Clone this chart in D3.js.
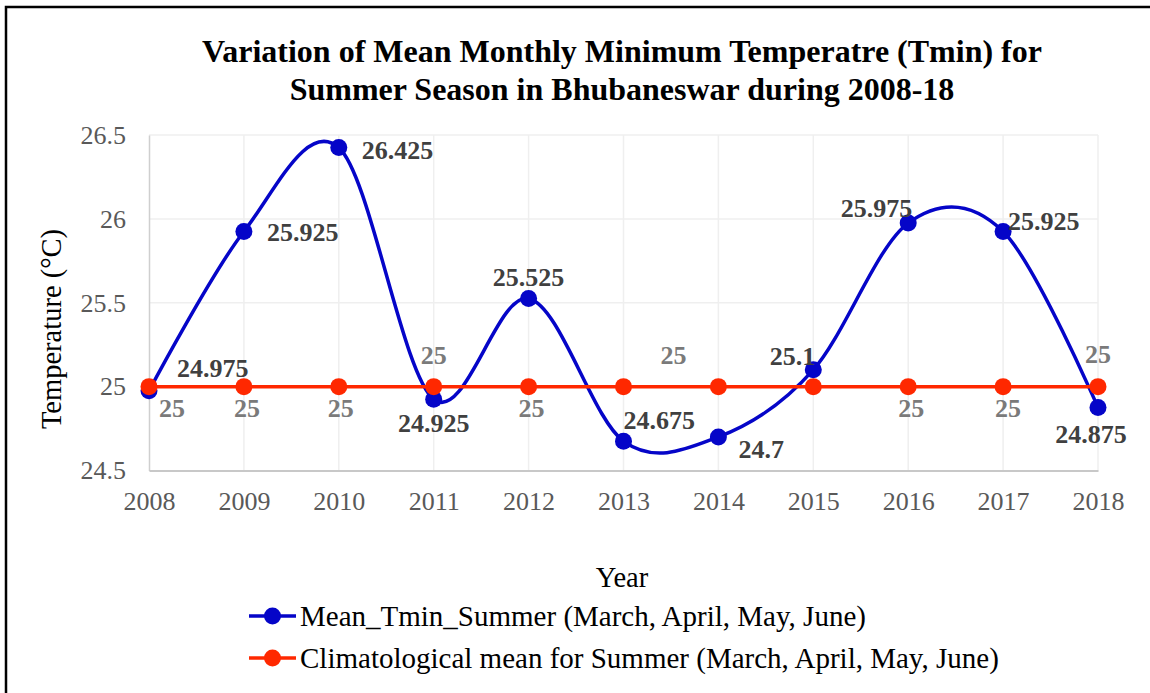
<!DOCTYPE html>
<html>
<head>
<meta charset="utf-8">
<script src="https://cdn.jsdelivr.net/npm/d3@7"></script>
<style>
body { margin: 0; background: #fff; }
text { font-family: "Liberation Serif", "Times New Roman", serif; }
</style>
</head>
<body>
<svg id="chart" width="1150" height="693"></svg>
<script>
var totalW = 1150;
var totalH = 693;

// data
var years = ['2008', '2009', '2010', '2011', '2012', '2013', '2014', '2015', '2016', '2017', '2018'];
var tminSummer = [24.975, 25.925, 26.425, 24.925, 25.525, 24.675, 24.7, 25.1, 25.975, 25.925, 24.875];
var climMean = [25, 25, 25, 25, 25, 25, 25, 25, 25, 25, 25];
var yTicks = [24.5, 25, 25.5, 26, 26.5];
var seriesNames = ['Mean_Tmin_Summer (March, April, May, June)', 'Climatological mean for Summer (March, April, May, June)'];

// label placement relative to its point: [dx, dy, anchor]
var tminLabelOff = [[28, -14, 'start'], [23, 10, 'start'], [23, 11, 'start'], [0, 33, 'middle'],
    [0, -13, 'middle'], [0, -12, 'start'], [20, 21, 'start'], [2, -5, 'end'],
    [4, -6, 'end'], [5, -1, 'start'], [-7, 35, 'middle']];
var climLabelOff = [[10, 30, 'start'], [3, 30, 'middle'], [2, 30, 'middle'], [0, -23, 'middle'],
    [3, 30, 'middle'], [37, -23, 'start'], null, null,
    [3, 30, 'middle'], [5, 30, 'middle'], [0, -24, 'middle']];

var blue = '#0505c8';
var red = '#ff2800';

var plot = {left: 149, right: 1098, top: 135, bottom: 470.5};

var svg = d3.select('#chart');

// outer frame
svg.append('rect')
    .attr('x', 6).attr('y', 7)
    .attr('width', 1160).attr('height', 700)
    .attr('fill', 'none').attr('stroke', '#000').attr('stroke-width', 2.5);

var x = d3.scalePoint().domain(years).range([plot.left, plot.right]);
var y = d3.scaleLinear().domain([24.5, 26.5]).range([plot.bottom, plot.top]);

// title
var title = svg.append('text')
    .attr('text-anchor', 'middle')
    .attr('font-weight', 'bold')
    .attr('font-size', 32)
    .attr('fill', '#000');
title.append('tspan').attr('x', 622).attr('y', 62).text('Variation of Mean Monthly Minimum Temperatre (Tmin) for');
title.append('tspan').attr('x', 622).attr('y', 100).text('Summer Season in Bhubaneswar during 2008-18');

// gridlines
var grid = svg.append('g').attr('class', 'grid');
grid.selectAll('line.h')
    .data(yTicks.slice(1))
    .enter().append('line')
    .attr('x1', plot.left).attr('x2', plot.right)
    .attr('y1', function (d) { return y(d); })
    .attr('y2', function (d) { return y(d); })
    .attr('stroke', '#efefef').attr('stroke-width', 1.5);
grid.selectAll('line.v')
    .data(years.slice(1))
    .enter().append('line')
    .attr('x1', function (d) { return x(d); })
    .attr('x2', function (d) { return x(d); })
    .attr('y1', plot.top).attr('y2', plot.bottom)
    .attr('stroke', '#efefef').attr('stroke-width', 1.5);

// axes
var yAxis = svg.append('g')
    .attr('transform', 'translate(' + plot.left + ',0)')
    .call(d3.axisLeft(y).tickValues(yTicks).tickSize(0).tickPadding(23).tickFormat(function (d) { return d; }));
yAxis.select('.domain').attr('stroke', '#cfcfcf').attr('stroke-width', 1.5);
yAxis.selectAll('text').attr('font-size', 26).attr('fill', '#595959')
    .style('font-family', '"Liberation Serif", serif');

var xAxis = svg.append('g')
    .attr('transform', 'translate(0,' + plot.bottom + ')')
    .call(d3.axisBottom(x).tickSize(0).tickPadding(21));
xAxis.select('.domain').attr('stroke', '#c8c8c8').attr('stroke-width', 2);
xAxis.selectAll('text').attr('font-size', 26).attr('fill', '#595959')
    .style('font-family', '"Liberation Serif", serif');

// axis titles
svg.append('text')
    .attr('transform', 'translate(61,329) rotate(-90)')
    .attr('text-anchor', 'middle')
    .attr('font-size', 28.5)
    .attr('fill', '#000')
    .text('Temperature (°C)');
svg.append('text')
    .attr('x', 622).attr('y', 587)
    .attr('text-anchor', 'middle')
    .attr('font-size', 28.5)
    .attr('fill', '#000')
    .text('Year');

// lines
var smooth = d3.line()
    .x(function (d, i) { return x(years[i]); })
    .y(function (d) { return y(d); })
    .curve(d3.curveCardinal.tension(0));
var straight = d3.line()
    .x(function (d, i) { return x(years[i]); })
    .y(function (d) { return y(d); });

svg.append('path').datum(tminSummer)
    .attr('d', smooth)
    .attr('fill', 'none').attr('stroke', blue).attr('stroke-width', 3.5);
svg.selectAll('circle.tmin')
    .data(tminSummer)
    .enter().append('circle')
    .attr('class', 'tmin')
    .attr('cx', function (d, i) { return x(years[i]); })
    .attr('cy', function (d) { return y(d); })
    .attr('r', 8.5)
    .attr('fill', blue);

svg.append('path').datum(climMean)
    .attr('d', straight)
    .attr('fill', 'none').attr('stroke', red).attr('stroke-width', 3.5);
svg.selectAll('circle.clim')
    .data(climMean)
    .enter().append('circle')
    .attr('class', 'clim')
    .attr('cx', function (d, i) { return x(years[i]); })
    .attr('cy', function (d) { return y(d); })
    .attr('r', 8.5)
    .attr('fill', red);

// data labels
function drawLabels(values, offs, color, cls) {
    var pts = values.map(function (d, i) { return {v: d, i: i, off: offs[i]}; })
        .filter(function (p) { return p.off; });
    svg.selectAll('text.' + cls)
        .data(pts)
        .enter().append('text')
        .attr('class', cls)
        .attr('x', function (p) { return x(years[p.i]) + p.off[0]; })
        .attr('y', function (p) { return y(p.v) + p.off[1]; })
        .attr('text-anchor', function (p) { return p.off[2]; })
        .attr('font-size', 26)
        .attr('font-weight', 'bold')
        .attr('fill', color)
        .text(function (p) { return p.v; });
}

drawLabels(tminSummer, tminLabelOff, '#404040', 'lblTmin');
drawLabels(climMean, climLabelOff, '#7a7a7a', 'lblClim');

// legend
var legend = svg.append('g').attr('class', 'legend');
var legendColors = [blue, red];
var legendRows = legend.selectAll('g')
    .data(seriesNames)
    .enter().append('g')
    .attr('transform', function (d, i) { return 'translate(249,' + (616 + i * 42) + ')'; });
legendRows.append('line')
    .attr('x1', 0).attr('x2', 47).attr('y1', 0).attr('y2', 0)
    .attr('stroke', function (d, i) { return legendColors[i]; })
    .attr('stroke-width', 3.5);
legendRows.append('circle')
    .attr('cx', 23.5).attr('cy', 0).attr('r', 8.5)
    .attr('fill', function (d, i) { return legendColors[i]; });
legendRows.append('text')
    .attr('x', 51).attr('y', 10)
    .attr('font-size', 29)
    .attr('fill', '#000')
    .text(function (d) { return d; });
</script>
</body>
</html>
